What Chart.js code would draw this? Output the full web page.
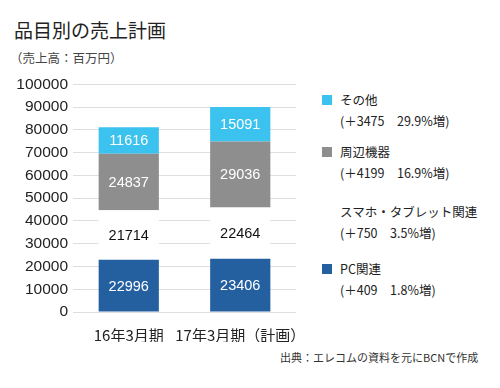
<!DOCTYPE html>
<html>
<head>
<meta charset="utf-8">
<script src="https://cdn.jsdelivr.net/npm/chart.js@4/dist/chart.umd.min.js"></script>
<style>
  body { margin: 0; background: #fff; font-family: "Noto Sans CJK JP", "Liberation Sans", sans-serif; }
  #wrap { position: relative; width: 500px; height: 388px; overflow: hidden; }
  #title { position: absolute; left: 14px; top: 16px; font-size: 19px; color: #222; }
  #unit { position: absolute; left: 10px; top: 48px; font-size: 12.5px; color: #444; }
  #box { position: absolute; left: 0; top: 70px; width: 300px; height: 272px; }
  #legend { position: absolute; left: 322px; top: 89px; font-size: 12.5px; color: #222; }
  .item { position: relative; padding-left: 18px; line-height: 21px; }
  .sw { position: absolute; left: 0; top: 6px; width: 10px; height: 10px; }
  #source { position: absolute; left: 280px; top: 349px; font-size: 11px; color: #333; }
</style>
</head>
<body>
<div id="wrap">
  <div id="title">品目別の売上計画</div>
  <div id="unit">（売上高：百万円）</div>
  <div id="box"><canvas id="c"></canvas></div>
  <div id="legend"></div>
  <div id="source">出典：エレコムの資料を元にBCNで作成</div>
</div>
<script>
// Data
const categories = ['16年3月期', '17年3月期（計画）'];
const pcSales = [22996, 23406];
const smartSales = [21714, 22464];
const periphSales = [24837, 29036];
const otherSales = [11616, 15091];

const seriesNames = ['PC関連', 'スマホ・タブレット関連', '周辺機器', 'その他'];
const seriesGrowth = ['(＋409　1.8%増)', '(＋750　3.5%増)', '(＋4199　16.9%増)', '(＋3475　29.9%増)'];
const seriesColors = ['#245fa0', '#ffffff', '#8e8e8e', '#3cc2ee'];
const labelColors = ['#fff', '#111', '#fff', '#fff'];

const yTicks = [0, 10000, 20000, 30000, 40000, 50000, 60000, 70000, 80000, 90000, 100000];

// Legend (top to bottom is reverse of stack order)
const legendEl = document.getElementById('legend');
const gaps = [0, 10, 18, 15];
[3, 2, 1, 0].forEach((i, n) => {
    const div = document.createElement('div');
    div.className = 'item';
    div.style.marginTop = gaps[n] + 'px';
    const sw = document.createElement('span');
    sw.className = 'sw';
    sw.style.background = seriesColors[i];
    div.appendChild(sw);
    div.appendChild(document.createTextNode(seriesNames[i]));
    div.appendChild(document.createElement('br'));
    div.appendChild(document.createTextNode(seriesGrowth[i]));
    legendEl.appendChild(div);
});

// Value labels inside each segment
const segLabels = {
    id: 'segLabels',
    afterDatasetsDraw(chart) {
        const ctx = chart.ctx;
        ctx.save();
        ctx.font = '14.5px "Liberation Sans", Arial, sans-serif';
        ctx.textAlign = 'center';
        ctx.textBaseline = 'middle';
        chart.data.datasets.forEach((ds, i) => {
            const meta = chart.getDatasetMeta(i);
            meta.data.forEach((bar, j) => {
                ctx.fillStyle = labelColors[i];
                ctx.fillText(String(ds.data[j]), bar.x, (bar.y + bar.base) / 2 + 1);
            });
        });
        ctx.restore();
    }
};

const seriesData = [pcSales, smartSales, periphSales, otherSales];

new Chart(document.getElementById('c'), {
    type: 'bar',
    data: {
        labels: categories,
        datasets: seriesData.map((d, i) => ({
            label: seriesNames[i],
            data: d,
            backgroundColor: seriesColors[i],
            borderWidth: 0,
            barPercentage: 0.9,
            categoryPercentage: 0.6
        }))
    },
    options: {
        responsive: true,
        maintainAspectRatio: false,
        animation: false,
        layout: { padding: { top: 10, right: 4, left: 0, bottom: 0 } },
        plugins: { legend: { display: false }, tooltip: { enabled: false } },
        scales: {
            x: {
                stacked: true,
                grid: { display: false },
                border: { display: false },
                ticks: {
                    color: '#222', maxRotation: 0, minRotation: 0, autoSkip: false,
                    font: { size: 15, family: '"Noto Sans CJK JP", sans-serif' }, padding: 6
                },
                afterFit(s) { s.height = 30; s.paddingLeft = 0; s.paddingRight = 0; }
            },
            y: {
                stacked: true,
                min: 0,
                max: 100000,
                afterBuildTicks(s) { s.ticks = yTicks.map(v => ({ value: v })); },
                grid: { color: '#dedede', drawTicks: false },
                border: { display: false },
                ticks: {
                    color: '#222', padding: 5,
                    font: { size: 15.5, family: '"Liberation Sans", Arial, sans-serif' },
                    callback: v => String(v)
                },
                afterFit(s) { s.width = 73; }
            }
        }
    },
    plugins: [segLabels]
});
</script>
</body>
</html>
